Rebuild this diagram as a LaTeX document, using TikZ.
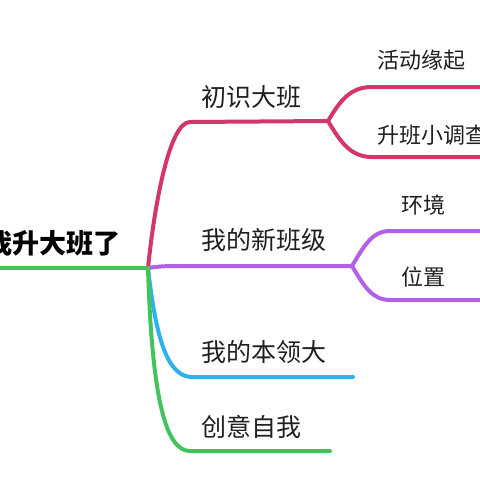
\documentclass[tikz,border=0pt]{standalone}
\usepackage{fontspec}
\newfontfamily\cjk{Noto Sans CJK SC}
\definecolor{cA}{RGB}{211,55,106}
\definecolor{cB}{RGB}{178,96,230}
\definecolor{cC}{RGB}{45,178,236}
\definecolor{cD}{RGB}{66,196,92}
\tikzset{
  br/.style={line width=4pt, line cap=round, line join=round},
  lab/.style={anchor=west, inner sep=0pt, font=\cjk\fontsize{25}{30}\selectfont, text=black!88},
  sublab/.style={anchor=west, inner sep=0pt, font=\cjk\fontsize{22}{26}\selectfont, text=black!88},
  rootlab/.style={anchor=west, inner sep=0pt, font=\cjk\bfseries\fontsize{27}{32}\selectfont, text=black}
}
\begin{document}
\begin{tikzpicture}[x=1pt,y=-1pt]
\useasboundingbox (0,0) rectangle (480,480);
\clip (0,0) rectangle (480,480);
% coordinates
\coordinate (L) at (-20,268);
\coordinate (H) at (148,268);
\coordinate (A0) at (190,122);
\coordinate (A1) at (328,121);
\coordinate (A2) at (372,87);
\coordinate (A3) at (372,157);
\coordinate (A2e) at (490,87);
\coordinate (A3e) at (490,157);
\coordinate (B0) at (182,266);
\coordinate (B1) at (352,266);
\coordinate (B2) at (390,231);
\coordinate (B3) at (390,300);
\coordinate (B2e) at (490,231);
\coordinate (B3e) at (490,300);
\coordinate (C0) at (192,377);
\coordinate (C1) at (353,377);
\coordinate (D0) at (190,451);
\coordinate (D1) at (330,451);
% root
\draw[br, cD] (L) -- (H);
\node[rootlab] (root) at (-15,243) {我升大班了};
% branch A
\draw[br, cA] (H) .. controls (155,200) and (170,122) .. (A0) -- (A1);
\draw[br, cA] (A1) .. controls (340,101) and (350,87) .. (A2) -- (A2e);
\draw[br, cA] (A1) .. controls (340,141) and (350,157) .. (A3) -- (A3e);
\node[lab] (a) at (201,97) {初识大班};
\node[sublab] (a1) at (377,60) {活动缘起};
\node[sublab] (a2) at (377,135) {升班小调查};
% branch B
\draw[br, cB] (H) .. controls (160,266) and (170,266) .. (B0) -- (B1);
\draw[br, cB] (B1) .. controls (364,246) and (372,231) .. (B2) -- (B2e);
\draw[br, cB] (B1) .. controls (364,286) and (372,300) .. (B3) -- (B3e);
\node[lab] (b) at (201,240) {我的新班级};
\node[sublab] (b1) at (401,205) {环境};
\node[sublab] (b2) at (401,277) {位置};
% branch C
\draw[br, cC] (H) .. controls (156,340) and (168,377) .. (C0) -- (C1);
\node[lab] (c) at (201,352) {我的本领大};
% branch D
\draw[br, cD] (H) .. controls (152,400) and (166,451) .. (D0) -- (D1);
\node[lab] (d) at (201,427) {创意自我};
\end{tikzpicture}
\end{document}
